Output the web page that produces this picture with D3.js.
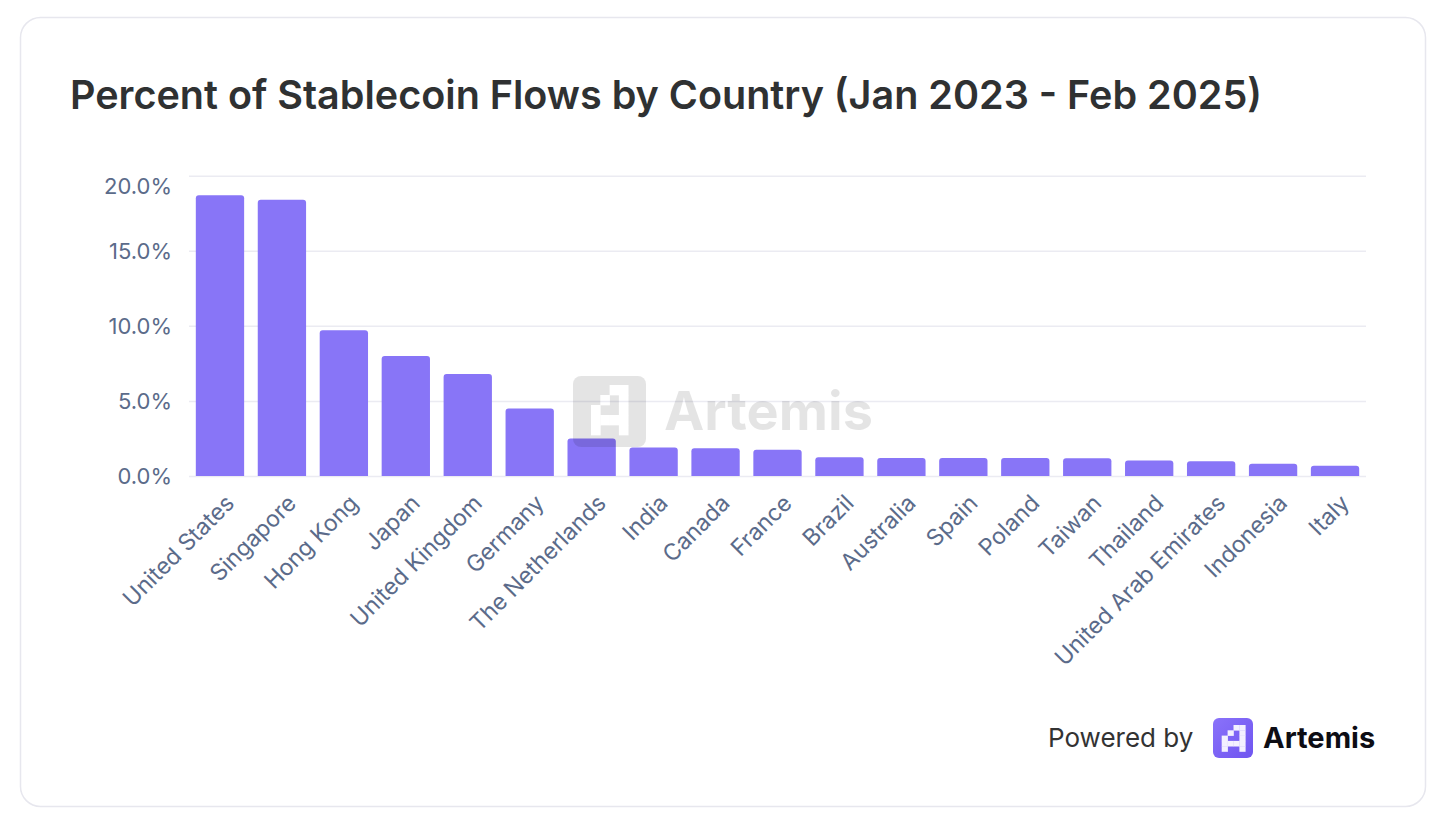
<!DOCTYPE html>
<html>
<head>
<meta charset="utf-8">
<script src="https://cdn.jsdelivr.net/npm/d3@7"></script>
<style>
  html, body { margin: 0; padding: 0; background: #fff; }
  svg text { font-family: Inter, "Noto Sans", sans-serif; }
</style>
</head>
<body>
<svg id="chart" width="1452" height="824"></svg>
<script>
// data
const countries = ["United States", "Singapore", "Hong Kong", "Japan", "United Kingdom",
  "Germany", "The Netherlands", "India", "Canada", "France", "Brazil", "Australia",
  "Spain", "Poland", "Taiwan", "Thailand", "United Arab Emirates", "Indonesia", "Italy"];
const shares = [18.7, 18.4, 9.7, 8.0, 6.8, 4.5, 2.5, 1.9, 1.85, 1.75, 1.25, 1.2,
  1.2, 1.2, 1.18, 1.04, 0.99, 0.82, 0.68];
const yTicks = [0, 5, 10, 15, 20];

const titleText = "Percent of Stablecoin Flows by Country (Jan 2023 - Feb 2025)";
const barColor = "#8875f7";
const labelColor = "#5b6b8a";

let svg = d3.select("#chart");

// card
svg.append("rect")
  .attr("x", 20.5).attr("y", 17.5)
  .attr("width", 1405).attr("height", 789)
  .attr("rx", 20)
  .attr("fill", "#fff")
  .attr("stroke", "#e7e7ee")
  .attr("stroke-width", 1.5);

// title, squeezed to the reference width
let title = svg.append("text")
  .attr("x", 70).attr("y", 109)
  .attr("font-size", 40)
  .attr("font-weight", 600)
  .attr("fill", "#2f3132")
  .text(titleText);
let tw = title.node().getComputedTextLength();
if (Math.abs(tw - 1192) > 10)
  title.attr("textLength", 1192).attr("lengthAdjust", "spacingAndGlyphs");

// scales
let xScale = d3.scaleBand()
  .domain(countries)
  .range([189, 1366])
  .paddingInner(0.22)
  .paddingOuter(0.11);
let yScale = d3.scaleLinear()
  .domain([0, 20])
  .range([476, 175.7]);

// gridlines + y labels via axisLeft
let yAxis = d3.axisLeft(yScale)
  .tickValues(yTicks)
  .tickSize(-(1366 - 189))
  .tickFormat(d => d.toFixed(1) + "%");

let gy = svg.append("g")
  .attr("transform", "translate(189,0)")
  .call(yAxis);
gy.select(".domain").remove();
gy.selectAll(".tick line")
  .attr("stroke", "#ebebf2")
  .attr("stroke-width", 1.5);
gy.selectAll(".tick text")
  .attr("x", -17)
  .attr("dy", d => d == 20 ? "0.8em" : "0.36em")
  .attr("font-size", 22)
  .attr("fill", labelColor)
  .attr("font-family", "Inter, sans-serif");

// bars with rounded tops
function barPath(d, i) {
  let x0 = xScale(countries[i]);
  let w = xScale.bandwidth();
  let y0 = yScale(d);
  let y1 = yScale(0);
  let r = Math.min(3, (y1 - y0) / 2);
  return "M" + x0 + "," + y1 +
    " V" + (y0 + r) +
    " Q" + x0 + "," + y0 + " " + (x0 + r) + "," + y0 +
    " H" + (x0 + w - r) +
    " Q" + (x0 + w) + "," + y0 + " " + (x0 + w) + "," + (y0 + r) +
    " V" + y1 + " Z";
}

svg.append("g")
  .attr("class", "bars")
  .selectAll("path")
  .data(shares)
  .enter()
  .append("path")
  .attr("d", barPath)
  .attr("fill", barColor);

// x labels, rotated
let xAxis = d3.axisBottom(xScale).tickSize(0).tickPadding(0);
let gx = svg.append("g")
  .attr("transform", "translate(0,476)")
  .call(xAxis);
gx.select(".domain").remove();
gx.selectAll(".tick text")
  .attr("font-size", 23)
  .attr("fill", labelColor)
  .attr("font-family", "Inter, sans-serif")
  .attr("text-anchor", "end")
  .attr("dy", null)
  .attr("y", 0)
  .attr("dominant-baseline", "central")
  .attr("transform", "translate(10,23) rotate(-45)");

// pixel "A" of the Artemis logo, as cells on a 4x5 grid
const logoCells = [
  [2, 0], [3, 0],
  [1, 1], [3, 1],
  [0, 2], [3, 2],
  [0, 3], [1, 3], [2, 3], [3, 3],
  [0, 4], [3, 4]
];

function drawLogoCells(g, x, y, cw, ch, fill) {
  g.selectAll("rect.cell")
    .data(logoCells)
    .enter()
    .append("rect")
    .attr("class", "cell")
    .attr("x", d => x + d[0] * cw)
    .attr("y", d => y + d[1] * ch)
    .attr("width", cw + 0.3)
    .attr("height", ch + 0.3)
    .attr("fill", fill);
}

// watermark (semi-transparent, over the bars)
let defs = svg.append("defs");
let mask = defs.append("mask").attr("id", "wmMask");
mask.append("rect").attr("x", 0).attr("y", 0).attr("width", 1452).attr("height", 824).attr("fill", "#fff");
drawLogoCells(mask, 591, 385, 9.3, 10, "#000");

let wm = svg.append("g").attr("opacity", 0.1);
wm.append("rect")
  .attr("x", 573).attr("y", 376)
  .attr("width", 73).attr("height", 71)
  .attr("rx", 8)
  .attr("fill", "#000")
  .attr("mask", "url(#wmMask)");
wm.append("text")
  .attr("x", 664).attr("y", 430)
  .attr("font-size", 54)
  .attr("font-weight", 700)
  .attr("fill", "#000")
  .text("Artemis");

// footer
svg.append("text")
  .attr("x", 1048).attr("y", 747)
  .attr("font-size", 26)
  .attr("fill", "#333")
  .text("Powered by");

let grad = defs.append("linearGradient").attr("id", "logoGrad")
  .attr("x1", 0).attr("y1", 0).attr("x2", 1).attr("y2", 1);
grad.append("stop").attr("offset", 0).attr("stop-color", "#8a72fa");
grad.append("stop").attr("offset", 1).attr("stop-color", "#6f55f0");

let logo = svg.append("g");
logo.append("rect")
  .attr("x", 1213).attr("y", 718)
  .attr("width", 40).attr("height", 40)
  .attr("rx", 6)
  .attr("fill", "url(#logoGrad)");
drawLogoCells(logo, 1221.7, 725, 5.9, 5.3, "#f3f0ff");

svg.append("text")
  .attr("x", 1263).attr("y", 748)
  .attr("font-size", 29)
  .attr("font-weight", 700)
  .attr("fill", "#0d0d14")
  .text("Artemis");
</script>
</body>
</html>
